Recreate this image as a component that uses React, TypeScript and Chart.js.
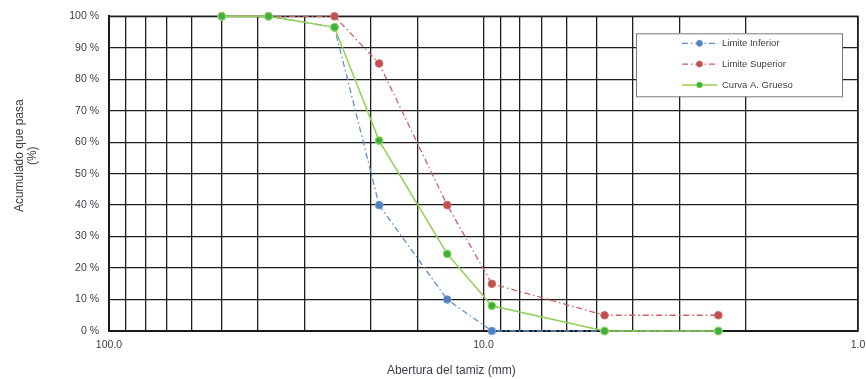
import React, { useEffect, useRef } from "react";
import { Chart, registerables } from "chart.js";

Chart.register(...registerables);

const sieves = [50, 37.5, 25, 19, 12.5, 9.5, 4.75, 2.36];
const limiteInferior = [100, 100, 96.5, 40, 10, 0, 0, 0];
const limiteSuperior = [100, 100, 100, 85, 40, 15, 5, 5];
const curvaGrueso = [100, 100, 96.5, 60.5, 24.5, 8, 0, 0];
const seriesNames = ["Limite Inferior", "Limite Superior", "Curva A. Grueso"];
const xTitle = "Abertura del tamiz (mm)";
const yTitle = ["Acumulado que pasa", "(%)"];

const FONT = "'Liberation Sans', Arial, sans-serif";
const TEXT = "#3c3c4a";

const toPoints = (vals: number[]) => sieves.map((s, i) => ({ x: s, y: vals[i] }));

const legendBoxPlugin = {
  id: "legendBox",
  afterDraw(chart: any) {
    const ctx = chart.ctx;
    const area = chart.chartArea;
    const w = 206;
    const h = 63;
    const x0 = area.right - 16 - w;
    const y0 = area.top + 17;
    ctx.save();
    ctx.fillStyle = "#ffffff";
    ctx.fillRect(x0, y0, w, h);
    ctx.strokeStyle = "#7a7a7a";
    ctx.lineWidth = 1;
    ctx.strokeRect(x0 + 0.5, y0 + 0.5, w, h);
    chart.data.datasets.forEach((ds: any, i: number) => {
      const cy = y0 + 10 + i * 20.8;
      const lx0 = x0 + 46;
      const lx1 = x0 + 81;
      ctx.setLineDash(ds.borderDash || []);
      ctx.strokeStyle = ds.borderColor;
      ctx.lineWidth = ds.borderWidth;
      ctx.beginPath();
      ctx.moveTo(lx0, cy);
      ctx.lineTo(lx1, cy);
      ctx.stroke();
      ctx.setLineDash([]);
      ctx.beginPath();
      ctx.arc((lx0 + lx1) / 2, cy, 3, 0, Math.PI * 2);
      ctx.fillStyle = ds.pointBackgroundColor;
      ctx.fill();
      ctx.lineWidth = 1;
      ctx.strokeStyle = ds.pointBorderColor;
      ctx.stroke();
      ctx.fillStyle = TEXT;
      ctx.font = `9.5px ${FONT}`;
      ctx.textAlign = "left";
      ctx.textBaseline = "middle";
      ctx.fillText(ds.label, lx1 + 5, cy);
    });
    ctx.restore();
  },
};

const axisTitlesPlugin = {
  id: "axisTitles",
  afterDraw(chart: any) {
    const { ctx, chartArea: a } = chart;
    ctx.save();
    ctx.fillStyle = TEXT;
    ctx.font = `12px ${FONT}`;
    ctx.textAlign = "center";
    ctx.textBaseline = "middle";
    ctx.fillText(xTitle, a.left + (a.right - a.left) * 0.457, a.bottom + 40);
    ctx.translate(26.5, a.top + (a.bottom - a.top) * 0.443);
    ctx.rotate(-Math.PI / 2);
    ctx.fillText(yTitle[0], 0, -6.5);
    ctx.fillText(yTitle[1], 0, 6.5);
    ctx.restore();
  },
};

export default function App() {
  const ref = useRef<HTMLCanvasElement | null>(null);

  useEffect(() => {
    document.body.style.margin = "0";
    const canvas = ref.current;
    if (!canvas) return;
    const chart = new Chart(canvas, {
      type: "line",
      data: {
        datasets: [
          {
            label: seriesNames[0],
            data: toPoints(limiteInferior),
            borderColor: "#5b8fd0",
            borderWidth: 1.3,
            borderDash: [6, 3, 1.5, 3],
            pointBackgroundColor: "#4f81bd",
            pointBorderColor: "#6a9ad6",
            pointRadius: 3.8,
            pointBorderWidth: 1,
            clip: false,
            order: 2,
          },
          {
            label: seriesNames[1],
            data: toPoints(limiteSuperior),
            borderColor: "#d06060",
            borderWidth: 1.3,
            borderDash: [6, 3, 1.5, 3],
            pointBackgroundColor: "#c0504d",
            pointBorderColor: "#d06a68",
            pointRadius: 3.8,
            pointBorderWidth: 1,
            clip: false,
            order: 1,
          },
          {
            label: seriesNames[2],
            data: toPoints(curvaGrueso),
            borderColor: "#92d050",
            borderWidth: 1.5,
            pointBackgroundColor: "#3fae3f",
            pointBorderColor: "#8fdc5a",
            pointRadius: 3.8,
            pointBorderWidth: 1.2,
            clip: false,
            order: 0,
          },
        ],
      },
      options: {
        animation: false,
        responsive: false,
        maintainAspectRatio: false,
        layout: { padding: { top: 15, right: 8, bottom: 0, left: 0 } },
        plugins: {
          legend: { display: false },
          tooltip: { enabled: false },
        },
        scales: {
          x: {
            type: "logarithmic",
            reverse: true,
            min: 1,
            max: 100,
            grid: { color: "#1e1e1e", lineWidth: 1.3, drawTicks: false },
            border: { color: "#111", width: 2 },
            ticks: {
              autoSkip: false,
              maxRotation: 0,
              padding: 8,
              color: TEXT,
              font: { family: FONT, size: 10.5 },
              callback: (v: any) => {
                const n = Number(v);
                return n === 1 || n === 10 || n === 100 ? n.toFixed(1) : "";
              },
            },
            afterFit: (s: any) => {
              s.height = 48;
              s.paddingLeft = 0;
              s.paddingRight = 0;
            },
          },
          y: {
            min: 0,
            max: 100,
            grid: { color: "#1e1e1e", lineWidth: 1.3, drawTicks: false },
            border: { color: "#111", width: 2 },
            ticks: {
              stepSize: 10,
              padding: 10,
              color: TEXT,
              font: { family: FONT, size: 10.5 },
              callback: (v: any) => `${v} %`,
            },
            afterFit: (s: any) => {
              s.width = 109;
            },
          },
        },
      },
      plugins: [
        legendBoxPlugin,
        axisTitlesPlugin,
        {
          id: "frame",
          beforeDatasetsDraw(chart: any) {
            const { ctx, chartArea: a } = chart;
            ctx.save();
            ctx.strokeStyle = "#1e1e1e";
            ctx.lineWidth = 1.5;
            ctx.strokeRect(a.left, a.top, a.right - a.left, a.bottom - a.top);
            ctx.restore();
          },
        },
      ],
    } as any);
    return () => chart.destroy();
  }, []);

  return (
    <div style={{ width: 866, height: 379 }}>
      <canvas ref={ref} width={866} height={379} style={{ display: "block" }} />
    </div>
  );
}
